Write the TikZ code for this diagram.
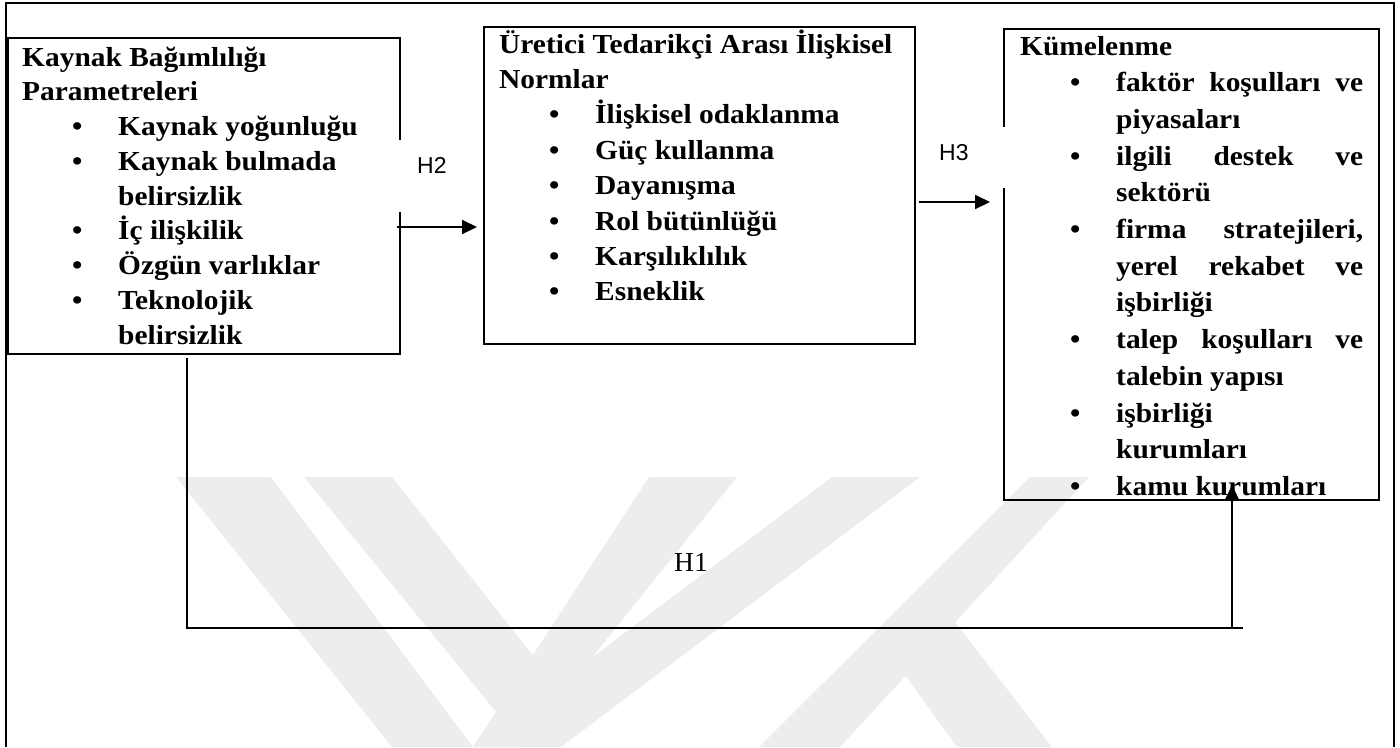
\documentclass[tikz,border=0pt]{standalone}
\usepackage{fontspec}
\setmainfont{Liberation Serif}
\newfontfamily\boxfont{Liberation Serif}[FakeStretch=1.07]
\newfontfamily\labelfont{Liberation Sans}
\usetikzlibrary{arrows.meta}

\definecolor{wmgray}{HTML}{EDEDED}

% list lines: heading, bullet item, continuation, justified variants
\newcommand\hd[1]{\hbox{#1}}
\newcommand\bl[1]{\hbox{\hbox to 96pt{\hskip 50pt\textbullet\hss}#1}}
\newcommand\ct[1]{\hbox{\hskip 96pt #1}}
\newcommand\bj[1]{\hbox{\hbox to 96pt{\hskip 50pt\textbullet\hss}\hbox to 247pt{#1}}}
\newcommand\cj[1]{\hbox{\hskip 96pt\hbox to 247pt{#1}}}

\begin{document}
\begin{tikzpicture}[x=1pt,y=-1pt,
  frame/.style={draw=black,line width=2pt,minimum width=#1,inner sep=0pt,outer sep=0pt,anchor=north west},
  listtext/.style={anchor=base west,inner sep=0pt,font=\boxfont\bfseries\fontsize{27.5pt}{34.75pt}\selectfont},
  mask/.style={fill=white,draw=none,inner sep=0pt},
  hlabel/.style={anchor=base west,inner sep=0pt,font=\labelfont\fontsize{23pt}{26pt}\selectfont},
  link/.style={line width=2pt},
  arrowlink/.style={line width=2pt,-{Triangle[length=15pt,width=14pt]}}]

\useasboundingbox (0,0) rectangle (1400,747);

% faint background mark
\begin{scope}[fill=wmgray]
  \fill (176,477) -- (271,477) -- (473,747) -- (392,747) -- cycle;
  \fill (304,477) -- (392,477) -- (560,690) -- (515,735) -- cycle;
  \fill (649,477) -- (737,477) -- (520,747) -- (473,747) -- cycle;
  \fill (473,747) -- (561,747) -- (920,477) -- (832,477) -- cycle;
  \fill (759,747) -- (840,747) -- (1089,477) -- (1030,477) -- cycle;
  \fill (880,640) -- (930,590) -- (1052,747) -- (957,747) -- cycle;
\end{scope}

% outer frame
\draw[line width=2.5pt] (6,747) -- (6,3) -- (1394,3) -- (1394,747);

% boxes
\node[frame=392pt,minimum height=316pt] (kb) at (8,38) {};
\node[frame=431pt,minimum height=317pt] (ut) at (484,27) {};
\node[frame=375pt,minimum height=471pt] (km) at (1004,29) {};

% gaps in the borders behind the labels
\node[mask,minimum width=90pt,minimum height=72pt] (h2mask) at (424,176) {};
\node[mask,minimum width=84pt,minimum height=61pt] (h3mask) at (966,157.5) {};

% box contents
\node[listtext] (kbt) at (22,66) {\vtop{\baselineskip=34.75pt
  \hd{Kaynak Bağımlılığı}
  \hd{Parametreleri}
  \bl{Kaynak yoğunluğu}
  \bl{Kaynak bulmada}
  \ct{belirsizlik}
  \bl{İç ilişkilik}
  \bl{Özgün varlıklar}
  \bl{Teknolojik}
  \ct{belirsizlik}}};

\node[listtext] (utt) at (499,53) {\vtop{\baselineskip=35.4pt
  \hd{Üretici Tedarikçi Arası İlişkisel}
  \hd{Normlar}
  \bl{İlişkisel odaklanma}
  \bl{Güç kullanma}
  \bl{Dayanışma}
  \bl{Rol bütünlüğü}
  \bl{Karşılıklılık}
  \bl{Esneklik}}};

\node[listtext] (kmt) at (1020,55) {\vtop{\baselineskip=36.7pt
  \hd{Kümelenme}
  \bj{faktör koşulları ve}
  \ct{piyasaları}
  \bj{ilgili destek ve}
  \ct{sektörü}
  \bj{firma stratejileri,}
  \cj{yerel rekabet ve}
  \ct{işbirliği}
  \bj{talep koşulları ve}
  \ct{talebin yapısı}
  \bl{işbirliği}
  \ct{kurumları}
  \bl{kamu kurumları}}};

% hypothesis labels
\node[hlabel] (h2) at (417,173) {H2};
\node[hlabel] (h3) at (939,160) {H3};
\node[anchor=base west,inner sep=0pt,font=\fontsize{27.5pt}{30pt}\selectfont] (h1) at (674,571) {H1};

% connectors
\coordinate (h2s) at (397,227);
\coordinate (h2e) at (477,227);
\coordinate (h3s) at (919,202);
\coordinate (h3e) at (990,202);
\coordinate (h1a) at (187,358);
\coordinate (h1b) at (187,628);
\coordinate (h1c) at (1243,628);
\coordinate (h1d) at (1232,628);
\coordinate (h1e) at (1232,485);

\draw[arrowlink] (h2s) -- (h2e);
\draw[arrowlink] (h3s) -- (h3e);
\draw[link] (h1a) -- (h1b) -- (h1c);
\draw[arrowlink] (h1d) -- (h1e);

\end{tikzpicture}
\end{document}
